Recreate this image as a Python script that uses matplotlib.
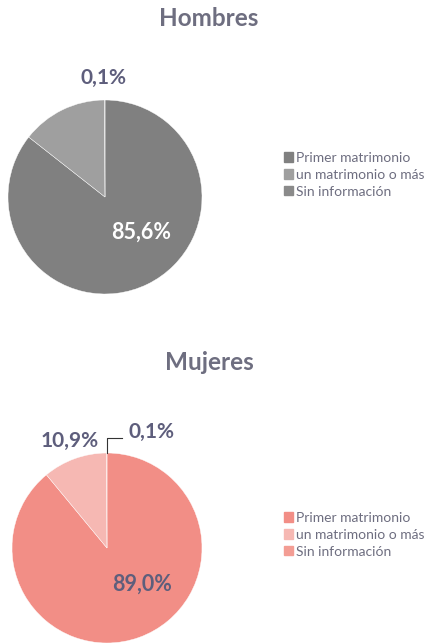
import matplotlib
matplotlib.use('Agg')
import matplotlib.pyplot as plt

plt.rcParams['font.family'] = ['Lato', 'DejaVu Sans']

categorias = ['Primer matrimonio', 'un matrimonio o más', 'Sin información']
hombres = [85.6, 14.3, 0.1]
mujeres = [89.0, 10.9, 0.1]
col_h = ['#808080', '#9f9f9f', '#8a8a8a']
col_m = ['#f28e86', '#f6b8b3', '#f39d94']

txt_col = '#5e5e7c'
leg_col = '#6e6e80'

fig = plt.figure(figsize=(4.37, 6.43), dpi=100)

ax1 = fig.add_axes([8/437, 1 - 294/643, 194/437, 194/643])
ax2 = fig.add_axes([12/437, 0.0, 190/437, 190/643])

for ax, vals, cols in [(ax1, hombres, col_h), (ax2, mujeres, col_m)]:
    ax.pie(vals, colors=cols, startangle=90, counterclock=False, radius=1,
           wedgeprops=dict(edgecolor='white', linewidth=0.3))
    ax.set_xlim(-1.0, 1.0)
    ax.set_ylim(-1.0, 1.0)
    ax.set_aspect('equal')
    ax.axis('off')

# etiquetas Hombres
ax1.text(0.37, -0.36, '85,6%', color='white', fontsize=15.5, fontweight='bold',
         ha='center', va='center')
ax1.text(-0.02, 1.23, '0,1%', color=txt_col, fontsize=15, fontweight='bold',
         ha='center', va='center', clip_on=False)

# etiquetas Mujeres
ax2.text(0.37, -0.38, '89,0%', color=txt_col, fontsize=15.5, fontweight='bold',
         ha='center', va='center')
ax2.text(-0.39, 1.13, '10,9%', color=txt_col, fontsize=15, fontweight='bold',
         ha='center', va='center', clip_on=False)
ax2.text(0.47, 1.22, '0,1%', color=txt_col, fontsize=15, fontweight='bold',
         ha='center', va='center', clip_on=False)
ax2.plot([0.0, 0.0, 0.16], [1.0, 1.16, 1.16], color='#333333', lw=0.8, clip_on=False)

# titulos
fig.text(209/437, 1 - 18/643, 'Hombres', color='#6e6e80', fontsize=17.5,
         fontweight='bold', ha='center', va='center')
fig.text(209/437, 1 - 362/643, 'Mujeres', color='#6e6e80', fontsize=17.5,
         fontweight='bold', ha='center', va='center')

# leyendas
for ax, cols, y0 in [(ax1, col_h, 1 - 152/643), (ax2, col_m, 1 - 512/643)]:
    handles = [plt.Rectangle((0, 0), 1, 1, color=c) for c in cols]
    fig.legend(handles, categorias, loc='upper left', bbox_to_anchor=(284/437, y0),
               frameon=False, fontsize=10, labelcolor=leg_col, handlelength=0.65,
               handleheight=0.65, handletextpad=0.25, labelspacing=0.35,
               borderaxespad=0, borderpad=0)

fig.savefig('out.png', dpi=100, facecolor='white')
